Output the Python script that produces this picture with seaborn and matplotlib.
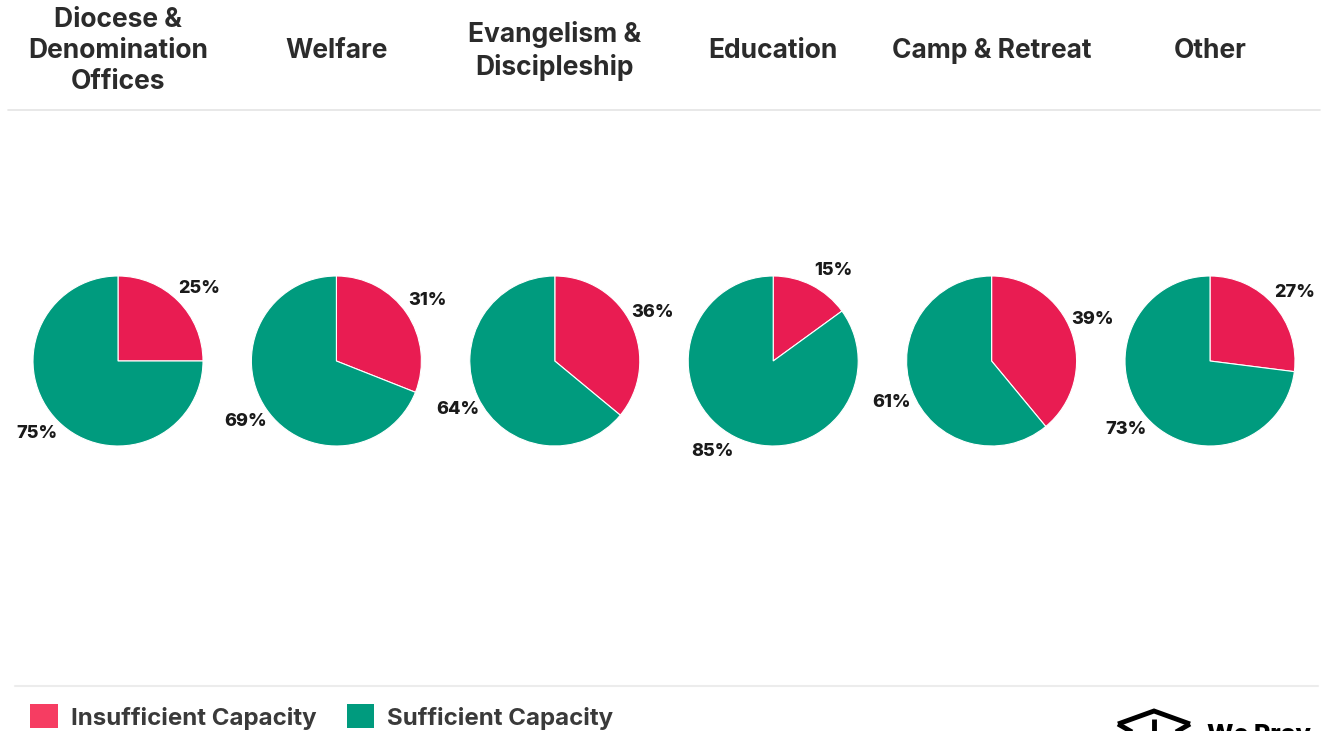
import matplotlib
matplotlib.use("Agg")
import numpy as np
import matplotlib.pyplot as plt
from matplotlib.patches import Patch
from matplotlib.lines import Line2D
import seaborn as sns

categories = ["Diocese &\nDenomination\nOffices", "Welfare", "Evangelism &\nDiscipleship",
              "Education", "Camp & Retreat", "Other"]
insufficient = [25, 31, 36, 15, 39, 27]
sufficient = [75, 69, 64, 85, 61, 73]
series_names = ["Insufficient Capacity", "Sufficient Capacity"]

sns.set_theme(style="white")
plt.rcParams['font.family'] = ['Inter', 'DejaVu Sans']

pie_colors = sns.color_palette(["#E91C52", "#009B7E"])
legend_colors = sns.color_palette(["#F63D62", "#009B7E"])

W, H = 1326, 731
fig = plt.figure(figsize=(W / 100, H / 100), dpi=100)

col_w = 218.4
x0 = 118
cy = 361
radius_px = 85
ax_size = 218
L = ax_size / 2 / radius_px

for i, (cat, a, b) in enumerate(zip(categories, insufficient, sufficient)):
    cx = x0 + col_w * i
    ax = fig.add_axes([(cx - ax_size / 2) / W, (H - cy - ax_size / 2) / H, ax_size / W, ax_size / H])
    wedges, _ = ax.pie([a, b], colors=pie_colors, startangle=90, counterclock=False,
                       radius=1, wedgeprops=dict(edgecolor="white", linewidth=0.8))
    for w, v in zip(wedges, [a, b]):
        mid = np.deg2rad((w.theta1 + w.theta2) / 2)
        c, s = np.cos(mid), np.sin(mid)
        phi = np.arctan2(abs(s), abs(c))
        phi2 = 0.78 * phi + np.deg2rad(7)
        ax.text(np.sign(c) * 1.28 * np.cos(phi2), np.sign(s) * 1.28 * np.sin(phi2), f"{v}%",
                ha="center", va="center", fontsize=13, fontweight="heavy", color="#1a1a1a")
    ax.set_xlim(-L, L)
    ax.set_ylim(-L, L)
    ax.set_aspect("equal")
    ax.axis("off")
    fig.text(cx / W, 1 - 51 / H, cat, ha="center", va="center", fontsize=19,
             fontweight="bold", color="#2b2b2b", linespacing=1.26)

# separator lines
fig.add_artist(Line2D([8 / W, 1320 / W], [1 - 110 / H, 1 - 110 / H], color="#e4e4e4", lw=1.2))
fig.add_artist(Line2D([15 / W, 1318 / W], [1 - 686 / H, 1 - 686 / H], color="#ececec", lw=1.5))

handles = [Patch(facecolor=c, edgecolor="none", label=n) for c, n in zip(legend_colors, series_names)]
leg = fig.legend(handles=handles, loc="center left", bbox_to_anchor=(30 / W, 1 - 717 / H),
                 ncol=2, frameon=False, fontsize=17.3, handlelength=1.15, handleheight=1.15,
                 handletextpad=0.55, columnspacing=1.25, borderpad=0, borderaxespad=0)
for t in leg.get_texts():
    t.set_fontweight("bold")
    t.set_color("#3a3a3a")

# logo fragment at bottom right
lk = dict(color="black", lw=3.5, solid_joinstyle="miter", solid_capstyle="butt")
fig.add_artist(Line2D([1118 / W, 1154 / W, 1190 / W], [1 - 724 / H, 1 - 711 / H, 1 - 724 / H], **lk))
fig.add_artist(Line2D([1118 / W, 1132 / W], [1 - 724 / H, 1 - 732 / H], **lk))
fig.add_artist(Line2D([1190 / W, 1176 / W], [1 - 724 / H, 1 - 732 / H], **lk))
fig.add_artist(Line2D([1154 / W, 1154 / W], [1 - 719 / H, 1 - 735 / H], **lk))
fig.text(1207 / W, 1 - 724 / H, "We Pray", fontsize=18, fontweight="heavy", color="black",
         ha="left", va="top")

fig.savefig("out.png", dpi=100, facecolor="white")
